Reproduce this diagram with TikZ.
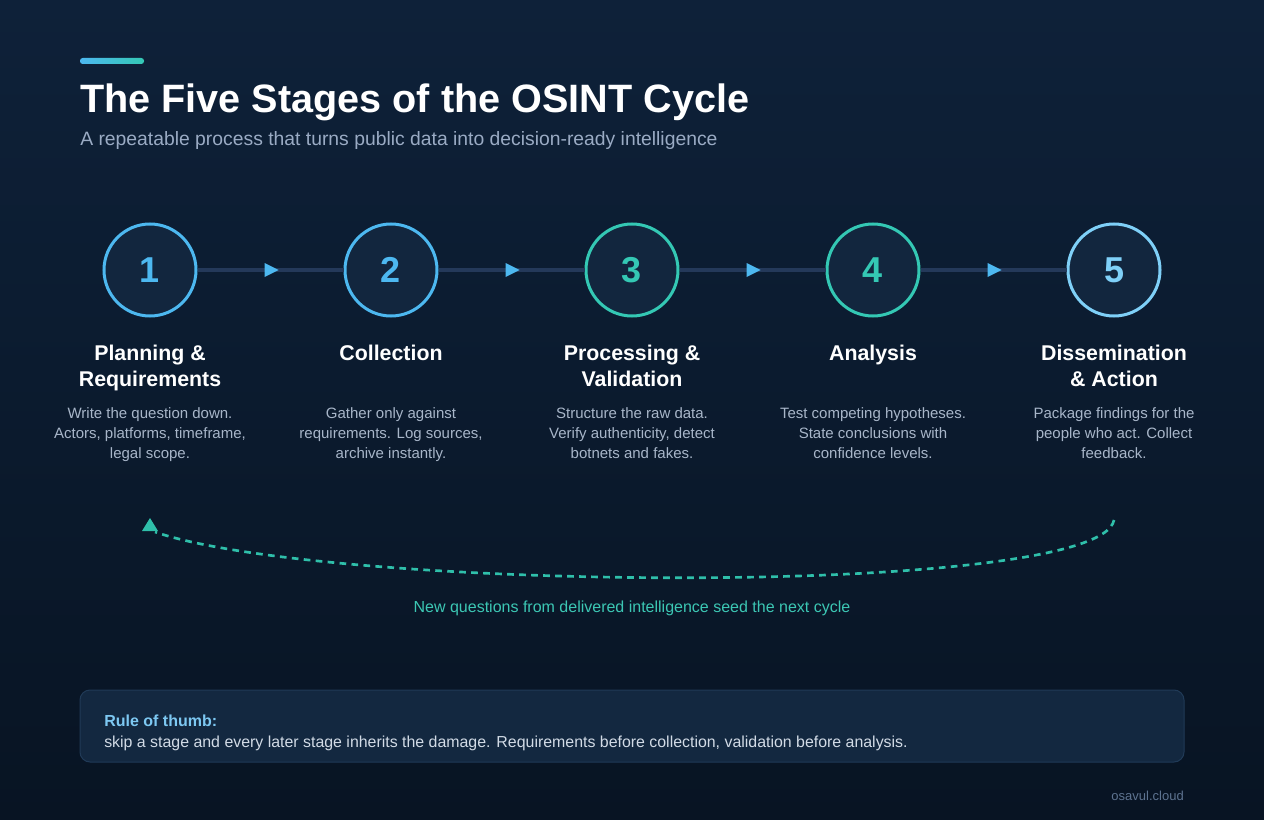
\documentclass[tikz,border=0pt]{standalone}
\usepackage{fontspec}
\setmainfont{Liberation Sans}
\usetikzlibrary{decorations.markings,calc}
\definecolor{bgtop}{HTML}{0E2139}
\definecolor{bgbot}{HTML}{081423}
\definecolor{cfill}{HTML}{12263E}
\definecolor{cblue}{HTML}{4DB8F0}
\definecolor{cteal}{HTML}{34C8B4}
\definecolor{clight}{HTML}{7FD0F8}
\definecolor{linkc}{HTML}{24395A}
\definecolor{subc}{HTML}{9AABC4}
\definecolor{descc}{HTML}{A8B6C9}
\definecolor{dashc}{HTML}{2FBFAA}
\definecolor{labc}{HTML}{3CC7B4}
\definecolor{boxfill}{HTML}{132840}
\definecolor{boxline}{HTML}{203A57}
\definecolor{ruleh}{HTML}{7DC8F2}
\definecolor{rulet}{HTML}{D2DBE6}
\definecolor{footc}{HTML}{5D7390}
\tikzset{
  stagecircle/.style={circle, minimum size=69pt, inner sep=0pt, line width=2.25pt, fill=cfill, draw=#1, text=#1, font=\fontsize{27pt}{30pt}\selectfont\bfseries},
  stagetitle/.style={anchor=base, align=center, text=white, inner sep=0pt, font=\fontsize{16pt}{19.5pt}\selectfont\bfseries},
  stagedesc/.style={anchor=base, align=center, text=descc, inner sep=0pt, font=\fontsize{11.25pt}{15pt}\selectfont},
  link/.style={draw=linkc, line width=3pt, postaction={decorate, decoration={markings, mark=at position 0.5 with {\fill[cblue] (-4.5pt,-5.25pt) -- (6pt,0pt) -- (-4.5pt,5.25pt) -- cycle;}}}},
}
\begin{document}
\begin{tikzpicture}[x=0.75pt,y=-0.75pt]
\useasboundingbox (0,0) rectangle (1264,820);
\shade[top color=bgtop, bottom color=bgbot] (0,0) rectangle (1264,820);
% accent bar
\shade[left color=cblue, right color=cteal, rounded corners=2pt] (80,58) rectangle (144,64);
% title
\node[anchor=base west, inner sep=0pt, text=white, font=\fontsize{29.7pt}{36pt}\selectfont\bfseries] (title) at (80,113) {The Five Stages of the OSINT Cycle};
\node[anchor=base west, inner sep=0pt, text=subc, font=\fontsize{14.5pt}{17pt}\selectfont] (subtitle) at (80,146) {A repeatable process that turns public data into decision-ready intelligence};
% circles
\node[stagecircle=cblue] (c1) at (150,270) {1};
\node[stagecircle=cblue] (c2) at (391,270) {2};
\node[stagecircle=cteal] (c3) at (632,270) {3};
\node[stagecircle=cteal] (c4) at (873,270) {4};
\node[stagecircle=clight] (c5) at (1114,270) {5};
\path[link] (c1.east) -- (c2.west);
\path[link] (c2.east) -- (c3.west);
\path[link] (c3.east) -- (c4.west);
\path[link] (c4.east) -- (c5.west);
% titles (base anchor = last line)
\node[stagetitle] (t1) at (150,386) {Planning \&\\Requirements};
\node[stagetitle] (t2) at (391,360) {Collection};
\node[stagetitle] (t3) at (632,386) {Processing \&\\Validation};
\node[stagetitle] (t4) at (873,360) {Analysis};
\node[stagetitle] (t5) at (1114,386) {Dissemination\\\& Action};
% descriptions
\node[stagedesc] (d1) at (150,458) {Write the question down.\\Actors, platforms, timeframe,\\legal scope.};
\node[stagedesc] (d2) at (391,458) {Gather only against\\requirements. Log sources,\\archive instantly.};
\node[stagedesc] (d3) at (632,458) {Structure the raw data.\\Verify authenticity, detect\\botnets and fakes.};
\node[stagedesc] (d4) at (873,458) {Test competing hypotheses.\\State conclusions with\\confidence levels.};
\node[stagedesc] (d5) at (1114,458) {Package findings for the\\people who act. Collect\\feedback.};
% feedback loop
\coordinate (fbstart) at (1114,520);
\coordinate (fbend) at (155,532);
\coordinate (fbtip) at (150,518);
\draw[dashc, line width=2pt, dash pattern=on 5pt off 4pt] (fbstart) .. controls (1100,598) and (330,592) .. (fbend);
\fill[dashc] (fbtip) -- ($(fbtip)+(8,13)$) -- ($(fbtip)+(-8,13)$) -- cycle;
\node[anchor=base, inner sep=0pt, text=labc, font=\fontsize{12pt}{14pt}\selectfont] (fblabel) at (632,612) {New questions from delivered intelligence seed the next cycle};
% rule box
\draw[fill=boxfill, draw=boxline, line width=0.75pt, rounded corners=7.5pt] (80,690) rectangle (1184,762);
\node[anchor=base west, inner sep=0pt, text=ruleh, font=\fontsize{12pt}{14pt}\selectfont\bfseries] (ruleh) at (104,726) {Rule of thumb:};
\node[anchor=base west, inner sep=0pt, text=rulet, font=\fontsize{11.93pt}{14pt}\selectfont] (rulet) at (104,747) {skip a stage and every later stage inherits the damage. Requirements before collection, validation before analysis.};
\node[anchor=base east, inner sep=0pt, text=footc, font=\fontsize{9.75pt}{12pt}\selectfont] (foot) at (1184,800) {osavul.cloud};
\end{tikzpicture}
\end{document}
